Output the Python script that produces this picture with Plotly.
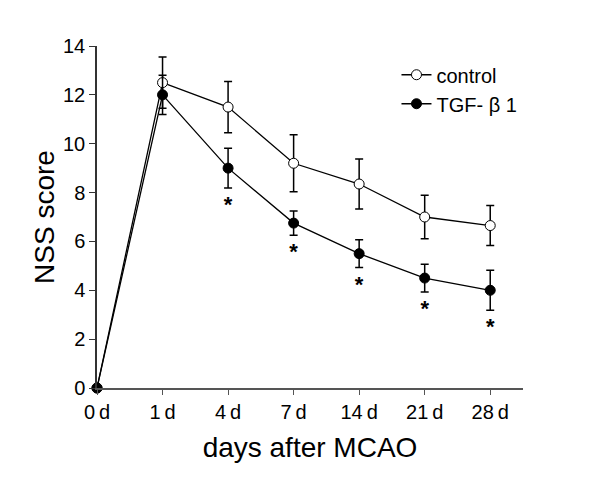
import plotly.graph_objects as go

days = ["0\u2009d", "1\u2009d", "4\u2009d", "7\u2009d", "14\u2009d", "21\u2009d", "28\u2009d"]
control = [0, 12.5, 11.5, 9.2, 8.35, 7.0, 6.65]
control_err = [0, 1.05, 1.05, 1.17, 1.02, 0.89, 0.82]
tgf = [0, 12.0, 9.0, 6.75, 5.5, 4.5, 4.0]
tgf_err = [0, 0.8, 0.81, 0.5, 0.57, 0.57, 0.82]
significant = [False, False, True, True, True, True, True]

xi = list(range(len(days)))
FONT = "Liberation Sans, Arial, sans-serif"

fig = go.Figure()
fig.add_trace(go.Scatter(
    x=xi, y=control, name="control", mode="lines+markers",
    line=dict(color="black", width=1.3),
    marker=dict(symbol="circle", size=10, color="white", line=dict(color="black", width=1)),
    error_y=dict(type="data", array=control_err, color="black", thickness=1.5, width=4),
    cliponaxis=False,
))
fig.add_trace(go.Scatter(
    x=xi, y=tgf, name="TGF- β 1", mode="lines+markers",
    line=dict(color="black", width=1.3),
    marker=dict(symbol="circle", size=10, color="black", line=dict(color="black", width=1)),
    error_y=dict(type="data", array=tgf_err, color="black", thickness=1.5, width=4),
    cliponaxis=False,
))
sx = [x for x, s in zip(xi, significant) if s]
sy = [v - e - 0.76 for v, e, s in zip(tgf, tgf_err, significant) if s]
fig.add_trace(go.Scatter(
    x=sx, y=sy, mode="text", text=["<b>*</b>"] * len(sx), showlegend=False,
    textposition="middle center",
    textfont=dict(family=FONT, size=22, color="black"),
    cliponaxis=False, hoverinfo="skip",
))

fig.update_layout(
    width=600, height=483,
    margin=dict(l=89, r=85, t=38, b=103),
    plot_bgcolor="white", paper_bgcolor="white",
    font=dict(family=FONT, color="black"),
    showlegend=True,
    legend=dict(x=0.703, y=0.973, xanchor="left", yanchor="top",
                font=dict(size=20, family=FONT), bgcolor="rgba(0,0,0,0)",
                tracegroupgap=0, itemwidth=30),
    xaxis=dict(
        range=[0, 6.5], tickmode="array", tickvals=xi, ticktext=days,
        showline=True, linecolor="#555", linewidth=1.5, ticks="outside",
        ticklen=5, tickcolor="#555", showgrid=False, zeroline=False,
        tickfont=dict(size=20, family=FONT), automargin=False,
        title=dict(text="days after MCAO", font=dict(size=28, family=FONT), standoff=16),
    ),
    yaxis=dict(
        range=[0, 14], tickvals=[0, 2, 4, 6, 8, 10, 12, 14],
        showline=True, linecolor="#333", linewidth=1.5, ticks="outside",
        ticklen=6, tickcolor="#333", showgrid=False, zeroline=False,
        tickfont=dict(size=20, family=FONT), automargin=False,
        title=dict(text="NSS score", font=dict(size=28, family=FONT), standoff=0),
    ),
)

fig.write_html("out.html")
